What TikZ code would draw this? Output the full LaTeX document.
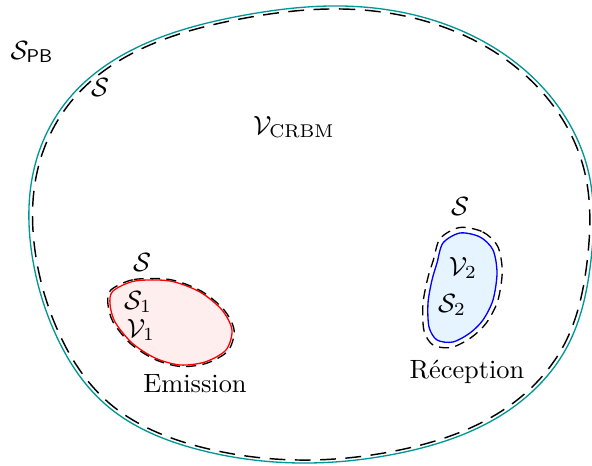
\documentclass[tikz,border=0pt]{standalone}
\usepackage{amsmath,amssymb}
\usetikzlibrary{hobby}
\begin{document}
\definecolor{tealc}{RGB}{0,150,150}
\definecolor{pinkf}{RGB}{255,238,238}
\definecolor{bluef}{RGB}{230,244,255}
\tikzset{
  outerline/.style={draw=tealc, line width=0.5pt},
  surfline/.style={draw=black, dash pattern=on 6pt off 3.6pt, line width=0.55pt},
  smallsurf/.style={draw=black, dash pattern=on 3.8pt off 2.4pt, line width=0.5pt},
  lab/.style={inner sep=0pt}
}
\begin{tikzpicture}[x=0.379pt,y=-0.379pt]
\useasboundingbox (0,0) rectangle (592,466);
% outer domain
\draw[outerline, use Hobby shortcut, closed=true] (340,6) .. (455,28) .. (545,90) .. (588,170) .. (591,260) .. (567,347) .. (500,416) .. (400,453) .. (300,463) .. (200,450) .. (105,404) .. (55,333) .. (32,255) .. (35,165) .. (72,95) .. (140,46) .. (240,16);
\begin{scope}[shift={(310,235)},scale=0.987,shift={(-310,-235)}]
\draw[surfline, use Hobby shortcut, closed=true] (340,6) .. (455,28) .. (545,90) .. (588,170) .. (591,260) .. (567,347) .. (500,416) .. (400,453) .. (300,463) .. (200,450) .. (105,404) .. (55,333) .. (32,255) .. (35,165) .. (72,95) .. (140,46) .. (240,16);
\end{scope}
% emission blob
\draw[draw=red, fill=pinkf, line width=0.5pt] plot[smooth cycle] coordinates {(113,291) (135,281) (170,281) (200,292) (222,310) (232,330) (226,350) (205,362) (180,365) (155,358) (132,343) (115,322) (110,304)};
\begin{scope}[shift={(171,322)},scale=1.035,shift={(-171,-322)}]
\draw[smallsurf] plot[smooth cycle] coordinates {(113,291) (135,281) (170,281) (200,292) (222,310) (232,330) (226,350) (205,362) (180,365) (155,358) (132,343) (115,322) (110,304)};
\end{scope}
% reception blob
\draw[draw=blue, fill=bluef, line width=0.5pt] plot[smooth cycle] coordinates {(460,233) (480,237) (493,250) (497,273) (493,300) (483,320) (470,333) (453,342) (437,340) (429,327) (428,303) (432,280) (437,263) (443,243)};
\begin{scope}[shift={(462,288)},xscale=1.15,yscale=1.1,shift={(-462,-288)}]
\draw[smallsurf] plot[smooth cycle] coordinates {(460,233) (480,237) (493,250) (497,273) (493,300) (483,320) (470,333) (453,342) (437,340) (429,327) (428,303) (432,280) (437,263) (443,243)};
\end{scope}
% labels
\node[lab] (spb) at (32,52) {$\mathcal{S}_{\mathsf{PB}}$};
\node[lab] (souter) at (100,87) {$\mathcal{S}$};
\node[lab] (vcrbm) at (294,127) {$\mathcal{V}_{\mathrm{CRBM}}$};
\node[lab] (sone) at (142,262) {$\mathcal{S}$};
\node[lab] (sonesub) at (138,302) {$\mathcal{S}_1$};
\node[lab] (vone) at (141,330) {$\mathcal{V}_1$};
\node[lab] (emission) at (195,384) {Emission};
\node[lab] (stwo) at (460,206) {$\mathcal{S}$};
\node[lab] (vtwo) at (463,268) {$\mathcal{V}_2$};
\node[lab] (stwosub) at (452,305) {$\mathcal{S}_2$};
\node[lab] (reception) at (467,372) {Réception};
\end{tikzpicture}
\end{document}
